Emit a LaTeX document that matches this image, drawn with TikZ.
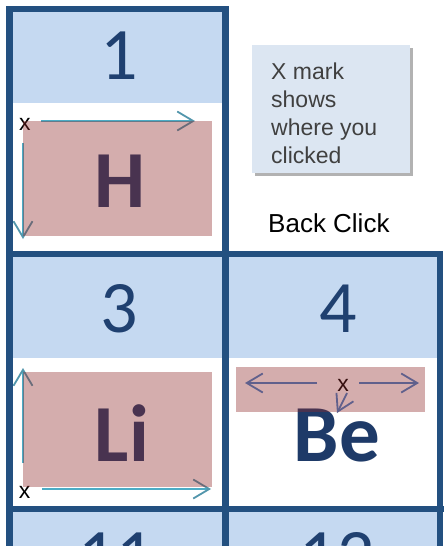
\documentclass[tikz,border=0pt]{standalone}
\usepackage{fontspec}
\setmainfont{Liberation Sans}
\newfontfamily\calib{Carlito}
\usetikzlibrary{arrows.meta,shadows}
\definecolor{hdrblue}{RGB}{197,217,241}
\definecolor{bnavy}{RGB}{35,80,128}
\definecolor{numnavy}{RGB}{31,64,112}
\definecolor{elnavy}{RGB}{30,58,104}
\definecolor{clickred}{RGB}{144,42,42}
\definecolor{arrcyan}{RGB}{75,172,198}
\definecolor{arrtip}{RGB}{82,150,172}
\definecolor{beArrow}{RGB}{96,96,140}
\definecolor{boxblue}{RGB}{220,230,242}
\definecolor{boxtext}{RGB}{64,64,64}
\tikzset{
  hdr/.style={fill=hdrblue, draw=none},
  digit/.style={font=\calib\fontsize{74}{74}\selectfont, text=numnavy, inner sep=0pt, anchor=base},
  elem/.style={font=\calib\bfseries\fontsize{81}{81}\selectfont, text=elnavy, inner sep=0pt, anchor=base},
  clickrect/.style={fill=clickred, fill opacity=0.38, draw=none},
  xmark/.style={font=\fontsize{23}{23}\selectfont, inner sep=0pt, anchor=base},
  carrow/.style={draw=arrcyan, line width=1.8pt, -{Straight Barb[length=16pt,width=19pt,line width=1.8pt,color=arrtip]}},
  barrow/.style={draw=beArrow, line width=1.8pt, -{Straight Barb[length=16pt,width=19pt,line width=1.8pt]}},
  border/.style={draw=bnavy, line width=6.5pt, line join=miter},
  tbox/.style={fill=boxblue, draw=none, inner sep=0pt, anchor=north west, minimum width=158pt, minimum height=128pt,
    drop shadow={shadow xshift=3pt, shadow yshift=-3pt, opacity=0.5, fill=black!60}},
  tboxtext/.style={font=\fontsize{23}{28}\selectfont, text=boxtext, align=left, inner sep=0pt, anchor=north west},
}
\begin{document}
\begin{tikzpicture}[x=1pt,y=-1pt]
\useasboundingbox (0,0) rectangle (444,546);
\clip (0,0) rectangle (444,546);
\fill[white] (0,0) rectangle (444,546);
% header fills
\path[hdr] (9.5,9) rectangle (225.5,103);
\path[hdr] (9.5,254) rectangle (225.5,358);
\path[hdr] (225.5,254) rectangle (440,358);
\path[hdr] (9.5,509) rectangle (225.5,546);
\path[hdr] (225.5,509) rectangle (440,546);
% digits
\node[digit] (n1) at (119,79) {1};
\node[digit] (n3) at (119,332) {3};
\node[digit] (n4) at (338,332) {4};
\node[digit] (n11) at (116,580) {11};
\node[digit] (n12) at (337,580) {12};
% element symbols
\node[elem] (eH) at (120,207) {H};
\node[elem] (eLi) at (122,461) {Li};
\node[elem] (eBe) at (337,461) {Be};
% x marks
\node[xmark] (xH) at (25,130) {x};
\node[xmark] (xLi) at (24.5,498) {x};
\node[xmark] (xBe) at (343,391) {x};
% arrow coordinates
\coordinate (hA) at (41,121); \coordinate (hB) at (195,121);
\coordinate (hC) at (23,143); \coordinate (hD) at (23,239);
\coordinate (lA) at (23,463); \coordinate (lB) at (23,368);
\coordinate (lC) at (42,489); \coordinate (lD) at (211,489);
\coordinate (bA) at (317,383); \coordinate (bB) at (245,383);
\coordinate (bC) at (359,383); \coordinate (bD) at (419,383);
\coordinate (bE) at (347,393); \coordinate (bF) at (337,413);
\draw[carrow] (hA) -- (hB);
\draw[carrow] (hC) -- (hD);
\draw[carrow] (lA) -- (lB);
\draw[carrow] (lC) -- (lD);
% click rectangles
\path[clickrect] (23,121) rectangle (212,236);
\path[clickrect] (23,372) rectangle (212,487);
\path[clickrect] (236,367) rectangle (425,412);
\draw[barrow] (bA) -- (bB);
\draw[barrow] (bC) -- (bD);
\draw[barrow] (bE) -- (bF);
% borders
\draw[border] (9.5,550) -- (9.5,9) -- (225.5,9) -- (225.5,550);
\draw[border] (6,254) -- (440,254) -- (440,550);
\draw[border] (6,509) -- (444,509);
% text box
\node[tbox] (tb) at (252,45) {};
\node[tboxtext] (tbt) at (271,62.5) {X mark\\shows\\where you\\clicked};
\node[font=\fontsize{26}{26}\selectfont, inner sep=0pt, anchor=base west] (back) at (268,232) {Back Click};
\end{tikzpicture}
\end{document}
